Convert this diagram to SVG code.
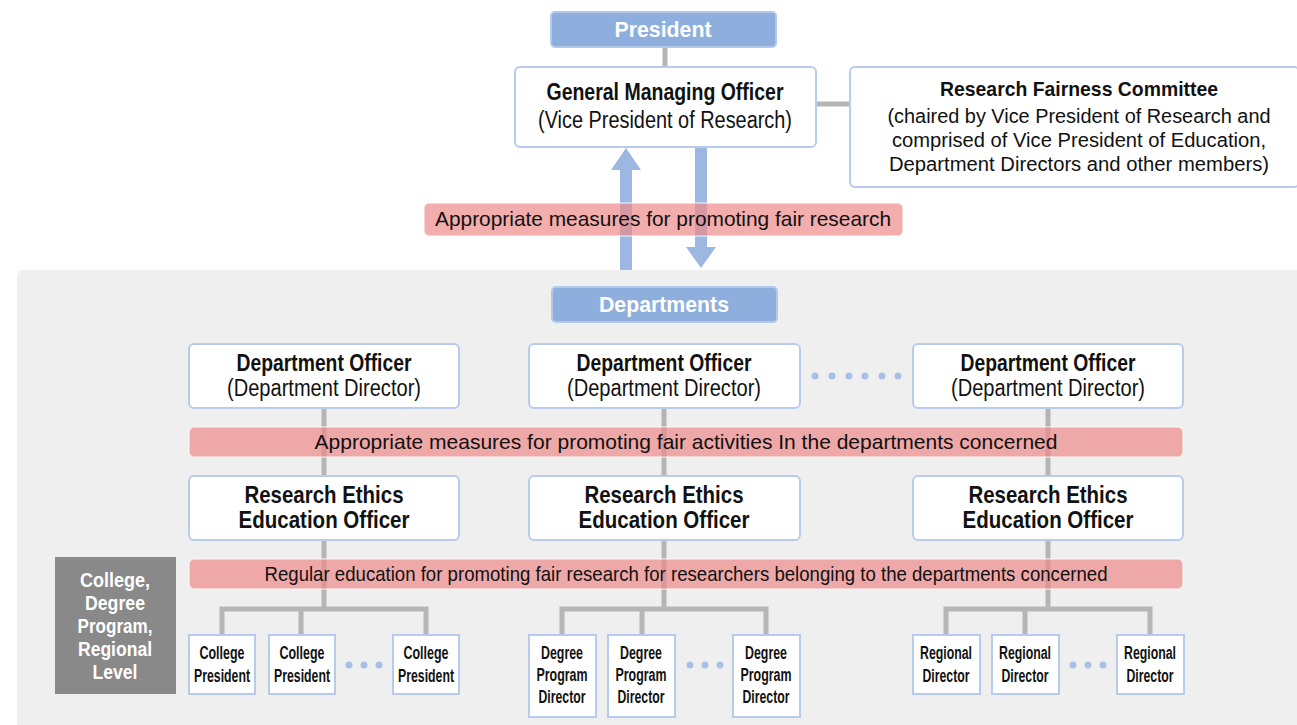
<svg xmlns="http://www.w3.org/2000/svg" width="1297" height="725" viewBox="0 0 1297 725">
<style>
text{font-family:"Liberation Sans",Arial,sans-serif;text-anchor:middle;fill:#111}
.blue{fill:#8eaede;stroke:#b3c9ec;stroke-width:2}
.blt{font-weight:bold;font-size:22px}
.box{fill:#fff;stroke:#b8cbee;stroke-width:2}
.b{font-weight:bold}
.band{fill:#ef8888;fill-opacity:0.69;stroke:#fff;stroke-opacity:0.6;stroke-width:1.5}
.bt{font-size:21px}
.ln{stroke:#b5b5b5;stroke-width:5;fill:none}
.arr{fill:#9cb8e2}
.dot{fill:#a9c0e6}
.sm{font-weight:bold;font-size:17.5px}
.lv{font-weight:bold;font-size:20px}
.w{fill:#fff}
</style>
<rect x="17" y="270" width="1290" height="465" rx="6" fill="#efefef"/>
<g id="connectors">
<line class="ln" x1="665" y1="47" x2="665" y2="67"/>
<line class="ln" x1="816" y1="104" x2="850" y2="104"/>
<line class="ln" x1="324" y1="408" x2="324" y2="476"/>
<line class="ln" x1="664" y1="408" x2="664" y2="476"/>
<line class="ln" x1="1048" y1="408" x2="1048" y2="476"/>
<path class="ln" d="M324 540V609M222 635V609H426V635M301 609V635"/>
<path class="ln" d="M664 540V609M562 635V609H766V635M642 609V635"/>
<path class="ln" d="M1048 540V609M946 635V609H1150V635M1025 609V635"/>
<polygon class="arr" points="620,270 632,270 632,170 641,170 626,148 611,170 620,170"/>
<polygon class="arr" points="695,148 707,148 707,247 716,247 701,268 686,247 695,247"/>
</g>
<g id="president"><rect class="blue" x="551" y="12" width="225" height="35" rx="4"/><text class="blt w" x="663" y="37" textLength="97" lengthAdjust="spacingAndGlyphs">President</text></g>
<g id="gmo"><rect class="box" x="515" y="67" width="301" height="80" rx="5"/>
<text class="b" x="665" y="100" font-size="23" textLength="237" lengthAdjust="spacingAndGlyphs">General Managing Officer</text>
<text x="665" y="128" font-size="23" textLength="254" lengthAdjust="spacingAndGlyphs">(Vice President of Research)</text></g>
<g id="rfc"><rect class="box" x="850" y="67" width="449" height="120" rx="5"/>
<text class="b" x="1079" y="96" font-size="21" textLength="278" lengthAdjust="spacingAndGlyphs">Research Fairness Committee</text>
<text x="1079" y="123" font-size="20" textLength="383" lengthAdjust="spacingAndGlyphs">(chaired by Vice President of Research and</text>
<text x="1079" y="147" font-size="20" textLength="374" lengthAdjust="spacingAndGlyphs">comprised of Vice President of Education,</text>
<text x="1079" y="171" font-size="20" textLength="380" lengthAdjust="spacingAndGlyphs">Department Directors and other members)</text></g>
<g id="band1"><rect class="band" x="424" y="203" width="479" height="33" rx="5"/><text class="bt" x="663" y="226" textLength="456" lengthAdjust="spacingAndGlyphs">Appropriate measures for promoting fair research</text></g>
<g id="departments"><rect class="blue" x="552" y="287" width="225" height="35" rx="4"/><text class="blt w" x="664" y="312" textLength="130" lengthAdjust="spacingAndGlyphs">Departments</text></g>
<g id="dept1"><rect class="box" x="189" y="344" width="270" height="64" rx="5"/><text class="b" x="324" y="371" font-size="23" textLength="175" lengthAdjust="spacingAndGlyphs">Department Officer</text><text x="324" y="396" font-size="23" textLength="194" lengthAdjust="spacingAndGlyphs">(Department Director)</text></g>
<g id="dept2"><rect class="box" x="529" y="344" width="271" height="64" rx="5"/><text class="b" x="664" y="371" font-size="23" textLength="175" lengthAdjust="spacingAndGlyphs">Department Officer</text><text x="664" y="396" font-size="23" textLength="194" lengthAdjust="spacingAndGlyphs">(Department Director)</text></g>
<g id="dept3"><rect class="box" x="913" y="344" width="270" height="64" rx="5"/><text class="b" x="1048" y="371" font-size="23" textLength="175" lengthAdjust="spacingAndGlyphs">Department Officer</text><text x="1048" y="396" font-size="23" textLength="194" lengthAdjust="spacingAndGlyphs">(Department Director)</text></g>
<g id="dots1"><circle class="dot" cx="815" cy="376" r="3.5"/><circle class="dot" cx="832" cy="376" r="3.5"/><circle class="dot" cx="849" cy="376" r="3.5"/><circle class="dot" cx="865" cy="376" r="3.5"/><circle class="dot" cx="882" cy="376" r="3.5"/><circle class="dot" cx="898" cy="376" r="3.5"/></g>
<g id="band2"><rect class="band" x="189" y="427" width="994" height="30" rx="5"/><text class="bt" x="686" y="449" textLength="743" lengthAdjust="spacingAndGlyphs">Appropriate measures for promoting fair activities In the departments concerned</text></g>
<g id="reeo1"><rect class="box" x="189" y="476" width="270" height="64" rx="5"/><text class="b" x="324" y="503" font-size="24" textLength="159" lengthAdjust="spacingAndGlyphs">Research Ethics</text><text class="b" x="324" y="528" font-size="24" textLength="171" lengthAdjust="spacingAndGlyphs">Education Officer</text></g>
<g id="reeo2"><rect class="box" x="529" y="476" width="271" height="64" rx="5"/><text class="b" x="664" y="503" font-size="24" textLength="159" lengthAdjust="spacingAndGlyphs">Research Ethics</text><text class="b" x="664" y="528" font-size="24" textLength="171" lengthAdjust="spacingAndGlyphs">Education Officer</text></g>
<g id="reeo3"><rect class="box" x="913" y="476" width="270" height="64" rx="5"/><text class="b" x="1048" y="503" font-size="24" textLength="159" lengthAdjust="spacingAndGlyphs">Research Ethics</text><text class="b" x="1048" y="528" font-size="24" textLength="171" lengthAdjust="spacingAndGlyphs">Education Officer</text></g>
<g id="band3"><rect class="band" x="189" y="559" width="994" height="30" rx="5"/><text class="bt" x="686" y="581" textLength="843" lengthAdjust="spacingAndGlyphs">Regular education for promoting fair research for researchers belonging to the departments concerned</text></g>
<g id="level"><rect x="55" y="557" width="121" height="137" fill="#898989"/>
<text class="lv w" x="115" y="587" textLength="70" lengthAdjust="spacingAndGlyphs">College,</text>
<text class="lv w" x="115" y="610" textLength="60" lengthAdjust="spacingAndGlyphs">Degree</text>
<text class="lv w" x="115" y="633" textLength="75" lengthAdjust="spacingAndGlyphs">Program,</text>
<text class="lv w" x="115" y="656" textLength="74" lengthAdjust="spacingAndGlyphs">Regional</text>
<text class="lv w" x="115" y="679" textLength="45" lengthAdjust="spacingAndGlyphs">Level</text></g>
<g id="cp1"><rect class="box" x="189" y="635" width="66" height="59"/><text class="sm" x="222" y="659" textLength="45" lengthAdjust="spacingAndGlyphs">College</text><text class="sm" x="222" y="682" textLength="56" lengthAdjust="spacingAndGlyphs">President</text></g>
<g id="cp2"><rect class="box" x="269" y="635" width="66" height="59"/><text class="sm" x="302" y="659" textLength="45" lengthAdjust="spacingAndGlyphs">College</text><text class="sm" x="302" y="682" textLength="56" lengthAdjust="spacingAndGlyphs">President</text></g>
<g id="cp3"><rect class="box" x="393" y="635" width="66" height="59"/><text class="sm" x="426" y="659" textLength="45" lengthAdjust="spacingAndGlyphs">College</text><text class="sm" x="426" y="682" textLength="56" lengthAdjust="spacingAndGlyphs">President</text></g>
<g id="dots2"><circle class="dot" cx="349" cy="665" r="3.5"/><circle class="dot" cx="364" cy="665" r="3.5"/><circle class="dot" cx="379" cy="665" r="3.5"/></g>
<g id="dp1"><rect class="box" x="529" y="635" width="67" height="82"/><text class="sm" x="562" y="659" textLength="42" lengthAdjust="spacingAndGlyphs">Degree</text><text class="sm" x="562" y="681" textLength="51" lengthAdjust="spacingAndGlyphs">Program</text><text class="sm" x="562" y="703" textLength="47" lengthAdjust="spacingAndGlyphs">Director</text></g>
<g id="dp2"><rect class="box" x="608" y="635" width="67" height="82"/><text class="sm" x="641" y="659" textLength="42" lengthAdjust="spacingAndGlyphs">Degree</text><text class="sm" x="641" y="681" textLength="51" lengthAdjust="spacingAndGlyphs">Program</text><text class="sm" x="641" y="703" textLength="47" lengthAdjust="spacingAndGlyphs">Director</text></g>
<g id="dp3"><rect class="box" x="733" y="635" width="67" height="82"/><text class="sm" x="766" y="659" textLength="42" lengthAdjust="spacingAndGlyphs">Degree</text><text class="sm" x="766" y="681" textLength="51" lengthAdjust="spacingAndGlyphs">Program</text><text class="sm" x="766" y="703" textLength="47" lengthAdjust="spacingAndGlyphs">Director</text></g>
<g id="dots3"><circle class="dot" cx="690" cy="665" r="3.5"/><circle class="dot" cx="705" cy="665" r="3.5"/><circle class="dot" cx="720" cy="665" r="3.5"/></g>
<g id="rd1"><rect class="box" x="913" y="635" width="67" height="59"/><text class="sm" x="946" y="659" textLength="52" lengthAdjust="spacingAndGlyphs">Regional</text><text class="sm" x="946" y="682" textLength="47" lengthAdjust="spacingAndGlyphs">Director</text></g>
<g id="rd2"><rect class="box" x="992" y="635" width="67" height="59"/><text class="sm" x="1025" y="659" textLength="52" lengthAdjust="spacingAndGlyphs">Regional</text><text class="sm" x="1025" y="682" textLength="47" lengthAdjust="spacingAndGlyphs">Director</text></g>
<g id="rd3"><rect class="box" x="1117" y="635" width="67" height="59"/><text class="sm" x="1150" y="659" textLength="52" lengthAdjust="spacingAndGlyphs">Regional</text><text class="sm" x="1150" y="682" textLength="47" lengthAdjust="spacingAndGlyphs">Director</text></g>
<g id="dots4"><circle class="dot" cx="1073" cy="665" r="3.5"/><circle class="dot" cx="1088" cy="665" r="3.5"/><circle class="dot" cx="1103" cy="665" r="3.5"/></g>
</svg>
